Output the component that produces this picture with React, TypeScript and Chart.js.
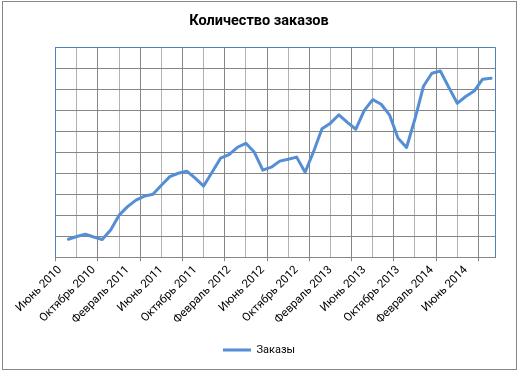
import React, { useEffect, useRef } from 'react';
import { Chart, registerables } from 'chart.js';

Chart.register(...registerables);

const chartTitle = 'Количество заказов';
const seriesName = 'Заказы';

const categories = [
  'Июнь 2010', 'Июль 2010', 'Август 2010', 'Сентябрь 2010', 'Октябрь 2010', 'Ноябрь 2010', 'Декабрь 2010',
  'Январь 2011', 'Февраль 2011', 'Март 2011', 'Апрель 2011', 'Май 2011', 'Июнь 2011', 'Июль 2011', 'Август 2011', 'Сентябрь 2011', 'Октябрь 2011', 'Ноябрь 2011', 'Декабрь 2011',
  'Январь 2012', 'Февраль 2012', 'Март 2012', 'Апрель 2012', 'Май 2012', 'Июнь 2012', 'Июль 2012', 'Август 2012', 'Сентябрь 2012', 'Октябрь 2012', 'Ноябрь 2012', 'Декабрь 2012',
  'Январь 2013', 'Февраль 2013', 'Март 2013', 'Апрель 2013', 'Май 2013', 'Июнь 2013', 'Июль 2013', 'Август 2013', 'Сентябрь 2013', 'Октябрь 2013', 'Ноябрь 2013', 'Декабрь 2013',
  'Январь 2014', 'Февраль 2014', 'Март 2014', 'Апрель 2014', 'Май 2014', 'Июнь 2014', 'Июль 2014', 'Август 2014', 'Сентябрь 2014',
];

const orders: (number | null)[] = [
  null, 8.6, 9.9, 11.0, 9.7, 8.5, 13.0, 20.1, 24.2, 27.3, 29.2, 30.1, 34.4, 38.5, 40.1, 41.1, 37.8, 34.0, 40.6,
  47.3, 49.0, 52.5, 54.4, 50.1, 41.6, 43.0, 45.9, 46.8, 47.8, 40.6, 50.4, 61.3, 64.0, 68.0, 64.4, 61.1, 70.1,
  75.2, 73.0, 67.8, 56.8, 52.4, 66.1, 81.6, 87.8, 88.9, 81.1, 73.5, 76.7, 79.3, 85.0, 85.4,
];

// every 4th category carries a label
const labelEvery = 4;
// gridlines every 2.5 categories, dark ones every 5
const gridEvery = 2.5;

const yMin = 0;
const yMax = 100;
const yStep = 10;

const FONT = 'Roboto, "Noto Sans", "DejaVu Sans", sans-serif';
const LINE = '#558ED5';
const GRID_DARK = '#868686';
const GRID_LIGHT = '#B2B2B2';
const BORDER_BLUE = '#4F81BD';

const align = (v: number) => Math.round(v - 0.5) + 0.5;

const framePlugin = {
  id: 'frame',
  beforeDraw(chart: any) {
    const { ctx, width, height } = chart;
    ctx.save();
    ctx.fillStyle = '#fff';
    ctx.fillRect(0, 0, width, height);
    ctx.strokeStyle = GRID_DARK;
    ctx.lineWidth = 1;
    ctx.strokeRect(2.5, 1.5, 514, 368);
    ctx.restore();
  },
  beforeDatasetsDraw(chart: any) {
    const { ctx, chartArea } = chart;
    const t = align(chartArea.top);
    const r = align(chartArea.right);
    const l = align(chartArea.left);
    ctx.save();
    ctx.strokeStyle = BORDER_BLUE;
    ctx.lineWidth = 1;
    ctx.beginPath();
    ctx.moveTo(l, t);
    ctx.lineTo(r, t);
    ctx.lineTo(r, align(chartArea.bottom));
    ctx.stroke();
    ctx.restore();
  },
};

export default function App() {
  const ref = useRef<HTMLCanvasElement | null>(null);

  useEffect(() => {
    document.body.style.margin = '0';
    const canvas = ref.current;
    if (!canvas) return;
    const n = categories.length;

    const chart = new Chart(canvas, {
      type: 'line',
      data: {
        datasets: [
          {
            label: seriesName,
            data: orders.map((v, i) => ({ x: i, y: v })) as any,
            borderColor: LINE,
            backgroundColor: LINE,
            borderWidth: 3,
            pointRadius: 0,
            tension: 0,
            fill: false,
            borderJoinStyle: 'round',
            borderCapStyle: 'round',
          },
        ],
      },
      options: {
        animation: false,
        responsive: false,
        layout: { padding: { left: 0, right: 0, top: 0, bottom: 6.5 } },
        plugins: {
          title: {
            display: true,
            text: chartTitle,
            color: '#000',
            font: { family: FONT, size: 14.5, weight: 'bold' },
            padding: { top: 13, bottom: 17.3 },
          },
          legend: {
            display: true,
            position: 'bottom',
            labels: {
              boxWidth: 28,
              boxHeight: 3,
              padding: 10,
              color: '#000',
              font: { family: FONT, size: 11 },
              generateLabels: () => [
                { text: seriesName, fillStyle: LINE, strokeStyle: LINE, lineWidth: 0, hidden: false, datasetIndex: 0 } as any,
              ],
            },
          },
          tooltip: { enabled: false },
        },
        scales: {
          x: {
            type: 'linear',
            min: -0.5,
            max: n - 0.5,
            afterBuildTicks: (scale: any) => {
              const ticks: any[] = [];
              for (let k = 0; -0.5 + gridEvery * k < n - 0.5; k++) {
                ticks.push({ value: -0.5 + gridEvery * k, kind: k % 2 === 0 ? 'major' : 'minor', lbl: '' });
              }
              for (let i = 0; i < n; i += labelEvery) {
                ticks.push({ value: i, kind: 'label', lbl: categories[i] });
              }
              ticks.sort((a, b) => a.value - b.value);
              scale.ticks = ticks;
            },
            afterFit: (scale: any) => {
              scale.height = 77.2;
              scale.paddingLeft = 0;
              scale.paddingRight = 22.7;
            },
            ticks: {
              autoSkip: false,
              minRotation: 45,
              maxRotation: 45,
              padding: 2,
              color: '#000',
              font: { family: FONT, size: 11.5 },
              callback: function (this: any, _v: any, index: number, ticks: any[]) {
                return ticks[index] && ticks[index].lbl ? ticks[index].lbl : '';
              },
            },
            grid: {
              color: (ctx: any) => {
                const k = ctx.tick && ctx.tick.kind;
                if (k === 'major') return GRID_DARK;
                if (k === 'minor') return GRID_LIGHT;
                return 'rgba(0,0,0,0)';
              },
              tickColor: (ctx: any) => (ctx.tick && ctx.tick.kind === 'major' ? GRID_DARK : 'rgba(0,0,0,0)'),
              lineWidth: 1,
              drawTicks: true,
              tickLength: 4,
            },
            border: { display: true, color: GRID_DARK, width: 1 },
          },
          y: {
            type: 'linear',
            min: yMin,
            max: yMax,
            afterFit: (scale: any) => {
              scale.width = 55.7;
            },
            ticks: { display: false, stepSize: yStep },
            grid: { color: GRID_DARK, lineWidth: 1, drawTicks: false },
            border: { display: true, color: BORDER_BLUE, width: 1 },
          },
        },
      },
      plugins: [framePlugin],
    });

    return () => chart.destroy();
  }, []);

  return (
    <div style={{ width: 518, height: 372 }}>
      <canvas ref={ref} width={518} height={372} style={{ display: 'block', width: 518, height: 372 }} />
    </div>
  );
}
